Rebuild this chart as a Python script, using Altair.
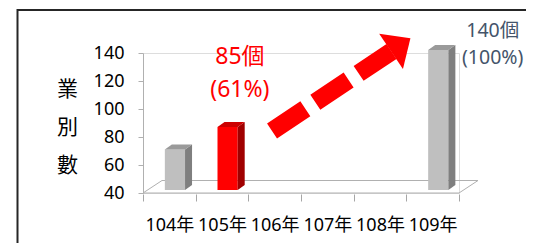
import altair as alt
import pandas as pd

# ---- data -------------------------------------------------------------
years = ["104年", "105年", "106年", "107年", "108年", "109年"]
counts = [69, 85, None, None, None, 140]
front_colors = ["#bfbfbf", "#ff0000", None, None, None, "#bfbfbf"]
side_colors = ["#7f7f7f", "#a00000", None, None, None, "#7f7f7f"]
top_colors = ["#9a9a9a", "#cc0000", None, None, None, "#9a9a9a"]
y_ticks = [40, 60, 80, 100, 120, 140]
label_105 = ["85個", "(61%)"]
label_109 = ["140個", "(100%)"]
y_title = ["業", "別", "數"]

# annotation anchors (in data units; text anchors are the first line)
arrow_from = (1.95, 84.3)
arrow_to = (4.218, 141.07)
arrow_head = (4.394, 145.9)
label_105_at = (1.34, 137.3)
label_109_at = (6.14, 155.4)

# ---- geometry (pixel styling converted to data units) ------------------
W, H = 316, 140
XMIN, XMAX = -0.5, 5.5
YMIN, YMAX = 40, 140
ux = W / (XMAX - XMIN)     # px per x unit
uy = H / (YMAX - YMIN)     # px per y unit

front_l = -4.5 / ux
front_r = 15.7 / ux
depth_dx = 7 / ux
depth_dy = 5 / uy
base_lift = 3 / uy

xs = alt.Scale(domain=[XMIN, XMAX], nice=False, zero=False)
ys = alt.Scale(domain=[YMIN, YMAX], nice=False, zero=False)

front_rows, side_rows, top_rows = [], [], []
for i, (yr, v) in enumerate(zip(years, counts)):
    if v is None:
        continue
    xl, xr = i + front_l, i + front_r
    yb, yt = YMIN + base_lift, v + base_lift
    front_rows.append(dict(bar=yr, x=xl, x2=xr, y=yt, y2=yb, c=front_colors[i]))
    side_rows += [
        dict(bar=yr, x=xr, hi=yt, lo=yb, c=side_colors[i]),
        dict(bar=yr, x=xr + depth_dx, hi=yt + depth_dy, lo=yb + depth_dy, c=side_colors[i]),
    ]
    top_rows += [
        dict(bar=yr, y=yt, xa=xl, xb=xr, c=top_colors[i]),
        dict(bar=yr, y=yt + depth_dy, xa=xl + depth_dx, xb=xr + depth_dx, c=top_colors[i]),
    ]

fdx, fdy = 19 / ux, 12.5 / uy
floor_pts = [
    (XMIN, YMIN), (XMIN + fdx, YMIN + fdy), (XMAX + fdx, YMIN + fdy), (XMAX, YMIN), (XMIN, YMIN)
]
floor_df = pd.DataFrame([dict(o=k, x=p[0], y=p[1]) for k, p in enumerate(floor_pts)])

FONT = "Noto Sans, Noto Sans CJK TC"
tick_vals = [XMIN + 0.5 * k for k in range(13)]
label_expr = "".join(f"datum.value == {i} ? '{y}' : " for i, y in enumerate(years)) + "''"

x_axis = alt.Axis(
    values=tick_vals, labelExpr=label_expr, title=None, domain=False, grid=False,
    tickSize=7, offset=1, tickColor="#a6a6a6",
    tickOpacity={"condition": {"test": "datum.value % 1 == 0", "value": 0}, "value": 1},
    labelFontSize=18, labelFont=FONT, labelColor="#000000", labelPadding=15,
    labelOverlap=False, labelFlush=False, labelBound=False,
)
y_axis = alt.Axis(
    values=y_ticks, title=y_title, titleAngle=0, titleX=-76, titleY=36,
    titleAlign="center", titleBaseline="middle", titleLineHeight=38,
    titleFontSize=21, titleFont="Noto Sans CJK TC", titleFontWeight="normal",
    titleColor="#000000", domainColor="#b0b0b0", tickColor="#b0b0b0", tickSize=5,
    grid=False, labelFontSize=18, labelFont=FONT, labelColor="#000000",
    labelPadding=14, labelOverlap=False, labelFlush=False,
)


def X(f):
    return alt.X(f, scale=xs, axis=x_axis)


def Y(f):
    return alt.Y(f, scale=ys, axis=y_axis)


floor = alt.Chart(floor_df).mark_line(color="#b0b0b0", strokeWidth=1).encode(
    x=X("x:Q"), y=Y("y:Q"), order="o:Q",
)

front = alt.Chart(pd.DataFrame(front_rows)).mark_rect().encode(
    x=X("x:Q"), x2="x2", y=Y("y:Q"), y2="y2",
    color=alt.Color("c:N", scale=None),
)
side = alt.Chart(pd.DataFrame(side_rows)).mark_area(orient="vertical", interpolate="linear").encode(
    x=X("x:Q"), y=Y("hi:Q"), y2="lo",
    detail="bar:N", color=alt.Color("c:N", scale=None),
)
top = alt.Chart(pd.DataFrame(top_rows)).mark_area(orient="horizontal", interpolate="linear").encode(
    y=Y("y:Q"), x=X("xa:Q"), x2="xb",
    detail="bar:N", color=alt.Color("c:N", scale=None),
)

arrow_df = pd.DataFrame([dict(x=arrow_from[0], y=arrow_from[1], x2=arrow_to[0], y2=arrow_to[1])])
shaft = alt.Chart(arrow_df).mark_rule(
    color="#ff0000", strokeWidth=18, strokeDash=[40, 12], strokeCap="butt"
).encode(x=X("x:Q"), y=Y("y:Q"), x2="x2", y2="y2")

head = alt.Chart(pd.DataFrame([dict(x=arrow_head[0], y=arrow_head[1])])).mark_point(
    shape="M-1,0.55L0,-0.55L1,0.55Z", filled=True, size=1806, angle=56,
    color="#ff0000", opacity=1, strokeWidth=0,
).encode(x=X("x:Q"), y=Y("y:Q"))

t105 = alt.Chart(pd.DataFrame([dict(x=label_105_at[0], y=label_105_at[1], t="\n".join(label_105))])).mark_text(
    color="#ff0000", fontSize=23, font=FONT, lineBreak="\n", lineHeight=33,
    align="center", baseline="middle",
).encode(x=X("x:Q"), y=Y("y:Q"), text="t:N")

t109 = alt.Chart(pd.DataFrame([dict(x=label_109_at[0], y=label_109_at[1], t="\n".join(label_109))])).mark_text(
    color="#44546a", fontSize=19.5, font=FONT, lineBreak="\n", lineHeight=27,
    align="center", baseline="middle",
).encode(x=X("x:Q"), y=Y("y:Q"), text="t:N")

one = pd.DataFrame([dict(k=0)])
frame_top = alt.Chart(one).mark_rule(color="#262626", strokeWidth=2).encode(
    x=alt.value(-125.5), x2=alt.value(385), y=alt.value(-43))
frame_left = alt.Chart(one).mark_rule(color="#262626", strokeWidth=2).encode(
    x=alt.value(-125.5), y=alt.value(-44), y2=alt.value(260))

chart = alt.layer(
    floor, front, side, top, shaft, head, t105, t109, frame_top, frame_left
).properties(
    width=W, height=H,
    autosize=alt.AutoSizeParams(type="none"),
    padding={"left": 135, "top": 45, "right": 67, "bottom": 50},
).configure_view(stroke=None).configure(background="#ffffff")

chart.save("out.html", embed_options={"renderer": "svg", "actions": False})
